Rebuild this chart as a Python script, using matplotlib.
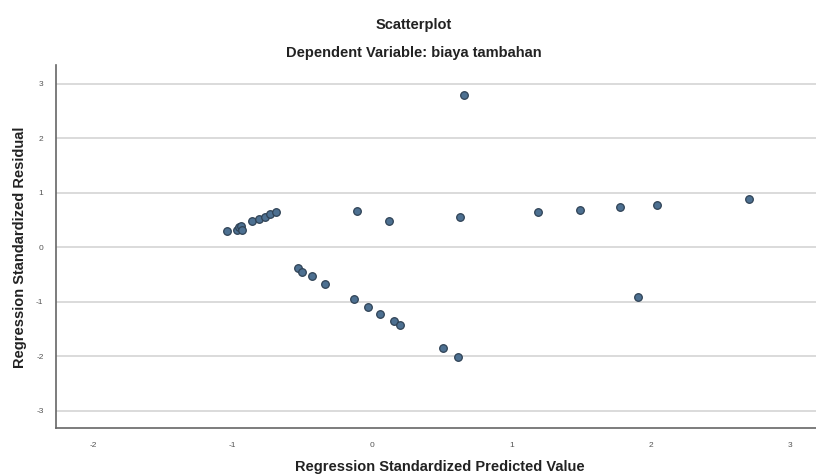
import matplotlib
matplotlib.use("Agg")
import matplotlib.pyplot as plt

plt.rcParams['font.family'] = ['Liberation Sans', 'DejaVu Sans']

predicted = [-1.04, -0.97, -0.95, -0.94, -0.93, -0.86, -0.81, -0.77, -0.73, -0.69,
             -0.53, -0.50, -0.43, -0.34, -0.13, -0.03, 0.06, 0.16, 0.20, 0.51, 0.62,
             -0.11, 0.12, 0.63, 0.66,
             1.19, 1.49, 1.78, 2.04, 2.70, 1.91]
residual = [0.30, 0.32, 0.36, 0.39, 0.32, 0.47, 0.52, 0.56, 0.60, 0.64,
            -0.39, -0.45, -0.54, -0.67, -0.96, -1.10, -1.23, -1.36, -1.43, -1.86, -2.01,
            0.67, 0.48, 0.56, 2.79,
            0.64, 0.68, 0.73, 0.77, 0.88, -0.92]
xticks = [-2, -1, 0, 1, 2, 3]
yticks = [-3, -2, -1, 0, 1, 2, 3]

fig = plt.figure(figsize=(8.16, 4.75), dpi=100)
ax = fig.add_axes([56/816, 1-428/475, 1-56/816, (428-65)/475])

ax.set_xlim(-2.265, 3.183)
ax.set_ylim(-3.32, 3.34)
for yv in yticks:
    ax.axhline(yv, color='#d4d4d4', lw=1.2, zorder=1)

ax.scatter(predicted, residual, s=30, c='#4d7091', edgecolors='#2f4255', linewidths=0.9, zorder=3)

ax.set_xticks(xticks)
ax.set_yticks(yticks)
ax.set_xticklabels([str(v) for v in xticks], fontsize=6, color='#555555')
ax.set_yticklabels([str(v) for v in yticks], fontsize=6, color='#555555')
ax.tick_params(length=0, pad=9)
ax.tick_params(axis='x', pad=10)

for s in ['top', 'right']:
    ax.spines[s].set_visible(False)
for s in ['left', 'bottom']:
    ax.spines[s].set_color('#666666')
    ax.spines[s].set_linewidth(1.2)

fig.text(440/816, 1-467/475, 'Regression Standardized Predicted Value', ha='center', va='center',
         fontsize=10.5, fontweight='bold', color='#222222')
fig.text(20/816, 1-247/475, 'Regression Standardized Residual', ha='center', va='center', rotation=90,
         fontsize=10.5, fontweight='bold', color='#222222')

fig.text(414/816, 1-25/475, 'Scatterplot', ha='center', va='center', fontsize=10.5, fontweight='bold', color='#222222')
fig.text(414/816, 1-53/475, 'Dependent Variable: biaya tambahan', ha='center', va='center', fontsize=10.5, fontweight='bold', color='#222222')

fig.savefig('out.png', dpi=100)
